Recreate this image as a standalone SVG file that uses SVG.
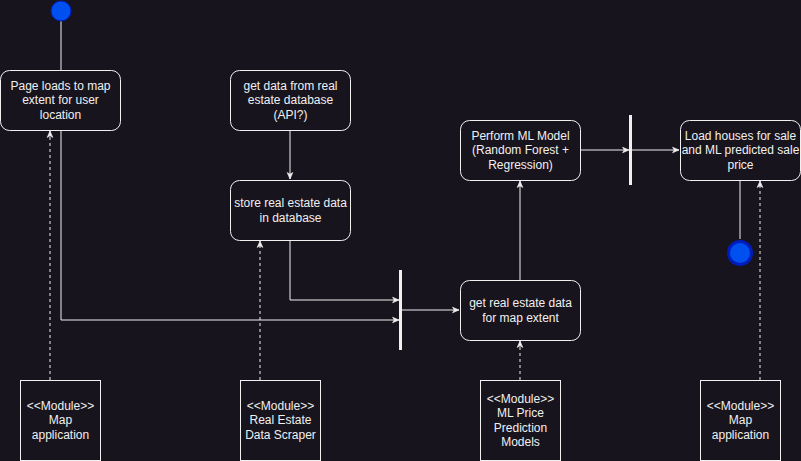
<svg xmlns="http://www.w3.org/2000/svg" width="801" height="461" viewBox="0 0 801 461">
<style>
.bg{fill:#18141d}
.node rect.r{fill:#18141d;stroke:#f0f0f0;stroke-width:1}
.mod rect{fill:#18141d;stroke:#f0f0f0;stroke-width:1}
text{font-family:"Liberation Sans",Arial,sans-serif;font-size:12px;fill:#f0f0f0;text-anchor:middle}
.c path{fill:none;stroke:#f0f0f0;stroke-width:1}
.c path.d{stroke-dasharray:3 3}
.bar{fill:#f0f0f0}
</style>
<defs>
<marker id="a" viewBox="0 0 10 10" refX="9" refY="5" markerWidth="8" markerHeight="8" orient="auto" markerUnits="userSpaceOnUse">
<path d="M1,1.5 L9,5 L1,8.5 L3,5 Z" fill="#f0f0f0" stroke="#f0f0f0" stroke-width="0.8"/>
</marker>
</defs>
<rect class="bg" x="0" y="0" width="801" height="461"/>
<g id="connectors" class="c">
<path d="M61,21 V70"/>
<path d="M290,130 V179" marker-end="url(#a)"/>
<path d="M290,240 V300 H399" marker-end="url(#a)"/>
<path d="M61,130 V320 H399" marker-end="url(#a)"/>
<path d="M402,310 H459" marker-end="url(#a)"/>
<path d="M520,280 V181" marker-end="url(#a)"/>
<path d="M580,150 H629" marker-end="url(#a)"/>
<path d="M632,150 H679" marker-end="url(#a)"/>
<path d="M740,180 V239"/>
<path class="d" d="M50,380 V131" marker-end="url(#a)"/>
<path class="d" d="M260,380 V241" marker-end="url(#a)"/>
<path class="d" d="M520,380 V341" marker-end="url(#a)"/>
<path class="d" d="M760,380 V181" marker-end="url(#a)"/>
</g>
<g id="start"><circle cx="61" cy="11" r="10" fill="#0050ef" stroke="#001dbc" stroke-width="1"/></g>
<g id="end"><circle cx="740" cy="253" r="11.5" fill="#0050ef" stroke="#001dbc" stroke-width="3"/></g>
<g id="bar1"><rect class="bar" x="629" y="115" width="3" height="70"/></g>
<g id="bar2"><rect class="bar" x="399" y="270" width="3" height="80"/></g>
<g id="n1" class="node"><rect class="r" x="0.5" y="70.5" width="120" height="60" rx="9"/>
<text x="60.5" y="90">Page loads to map</text><text x="60.5" y="104">extent for user</text><text x="60.5" y="119">location</text></g>
<g id="n2" class="node"><rect class="r" x="230.5" y="70.5" width="120" height="60" rx="9"/>
<text x="290.5" y="90">get data from real</text><text x="290.5" y="104">estate database</text><text x="290.5" y="119">(API?)</text></g>
<g id="n3" class="node"><rect class="r" x="230.5" y="180.5" width="120" height="60" rx="9"/>
<text x="290.5" y="207">store real estate data</text><text x="290.5" y="222">in database</text></g>
<g id="n4" class="node"><rect class="r" x="460.5" y="280.5" width="120" height="60" rx="9"/>
<text x="520.5" y="307">get real estate data</text><text x="520.5" y="322">for map extent</text></g>
<g id="n5" class="node"><rect class="r" x="460.5" y="120.5" width="120" height="60" rx="9"/>
<text x="520.5" y="140">Perform ML Model</text><text x="520.5" y="154">(Random Forest +</text><text x="520.5" y="169">Regression)</text></g>
<g id="n6" class="node"><rect class="r" x="680.5" y="120.5" width="120" height="60" rx="9"/>
<text x="740.5" y="140">Load houses for sale</text><text x="740.5" y="154">and ML predicted sale</text><text x="740.5" y="169">price</text></g>
<g id="m1" class="mod"><rect x="20.5" y="380.5" width="80" height="80"/>
<text x="60.5" y="410">&lt;&lt;Module&gt;&gt;</text><text x="60.5" y="424">Map</text><text x="60.5" y="439">application</text></g>
<g id="m2" class="mod"><rect x="240.5" y="380.5" width="80" height="80"/>
<text x="280.5" y="410">&lt;&lt;Module&gt;&gt;</text><text x="280.5" y="424">Real Estate</text><text x="280.5" y="439">Data Scraper</text></g>
<g id="m3" class="mod"><rect x="480.5" y="380.5" width="80" height="80"/>
<text x="520.5" y="403">&lt;&lt;Module&gt;&gt;</text><text x="520.5" y="417">ML Price</text><text x="520.5" y="432">Prediction</text><text x="520.5" y="446">Models</text></g>
<g id="m4" class="mod"><rect x="700.5" y="380.5" width="80" height="80"/>
<text x="740.5" y="410">&lt;&lt;Module&gt;&gt;</text><text x="740.5" y="424">Map</text><text x="740.5" y="439">application</text></g>
</svg>
